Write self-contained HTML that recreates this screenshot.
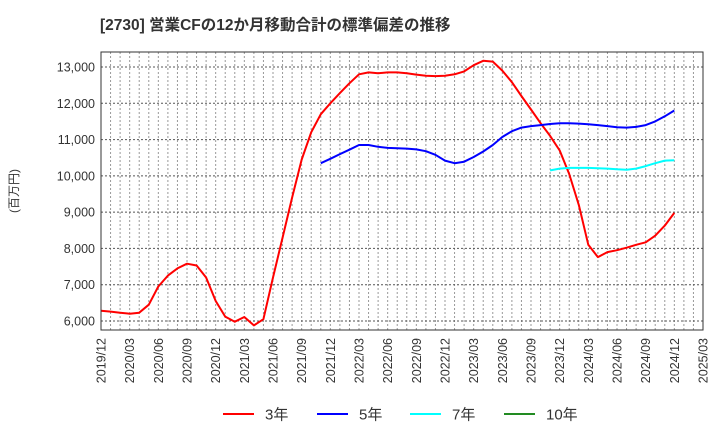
<!DOCTYPE html>
<html><head><meta charset="utf-8">
<style>
html,body{margin:0;padding:0;background:#fff;}
svg{display:block;font-family:"Liberation Sans","Noto Sans CJK JP",sans-serif;}
</style></head>
<body>
<svg id="chart" width="720" height="440" viewBox="0 0 720 440" xmlns="http://www.w3.org/2000/svg">
<text x="100" y="30" font-size="15.5" font-weight="bold" fill="#333">[2730]  営業CFの12か月移動合計の標準偏差の推移</text>
<text transform="translate(18,191) rotate(-90)" text-anchor="middle" font-size="12" fill="#333">(百万円)</text>
<g id="grid"></g>
<g id="series"></g>
<rect x="101" y="52" width="602" height="278" fill="none" stroke="#333" stroke-width="1"/>
<g id="axes"></g>
<g id="legend"></g>
</svg>
<script>
const yTicks=[6000,7000,8000,9000,10000,11000,12000,13000];
const xTickLabels=["2019/12","2020/03","2020/06","2020/09","2020/12","2021/03","2021/06","2021/09","2021/12","2022/03","2022/06","2022/09","2022/12","2023/03","2023/06","2023/09","2023/12","2024/03","2024/06","2024/09","2024/12","2025/03"];
const s3Start=0;
const s3=[6280,6260,6230,6200,6230,6450,6950,7250,7450,7580,7530,7200,6550,6120,5980,6110,5880,6050,7200,8300,9400,10450,11200,11700,12000,12280,12550,12800,12850,12830,12850,12850,12830,12790,12760,12750,12760,12800,12880,13050,13170,13150,12900,12580,12200,11830,11450,11100,10700,10050,9200,8100,7760,7900,7950,8020,8100,8170,8350,8630,8980];
const s5Start=23;
const s5=[10350,10470,10600,10720,10850,10850,10800,10770,10760,10750,10730,10680,10580,10420,10350,10390,10520,10670,10850,11070,11230,11330,11370,11400,11430,11450,11450,11440,11420,11400,11370,11340,11330,11350,11400,11500,11640,11800];
const s7Start=47;
const s7=[10150,10200,10220,10220,10220,10210,10200,10180,10170,10200,10270,10350,10420,10430];
const s10=[];
const legendLabels=["3年","5年","7年","10年"];
const colors=["#ff0000","#0000ff","#00ffff","#228b22"];

const NS="http://www.w3.org/2000/svg";
const X0=101,X1=703,Y0=52,Y1=330;
const nMonths=(xTickLabels.length-1)*3;
function xS(i){return X0+(X1-X0)*i/nMonths;}
function yS(v){return 67+(13000-v)*(321-67)/7000;}
function mk(tag,attrs,parent){const e=document.createElementNS(NS,tag);for(const k in attrs)e.setAttribute(k,attrs[k]);parent.appendChild(e);return e;}
const grid=document.getElementById('grid');
for(let m=1;m<nMonths;m++){
  const l=mk('line',{x1:xS(m),x2:xS(m),y1:Y0,y2:Y1,stroke:'#999','stroke-width':1,'stroke-dasharray':'2,2'},grid);
  
  
}
const axes=document.getElementById('axes');
yTicks.forEach(v=>{
  const l=mk('line',{x1:X0,x2:X1,y1:yS(v),y2:yS(v),stroke:'#555','stroke-width':1,'stroke-dasharray':'2,2'},grid);
  
  
  const t=mk('text',{x:X0-6,y:yS(v)+4.5,'text-anchor':'end','font-size':12.5,fill:'#333'},axes);
  t.textContent=v.toLocaleString('en-US');
  
  
});
xTickLabels.forEach((lab,i)=>{
  const x=xS(i*3);
  const t=mk('text',{transform:`translate(${x+4.5},338) rotate(-90)`,'text-anchor':'end','font-size':12.5,fill:'#333'},axes);
  t.textContent=lab;
  
  
});
const series=document.getElementById('series');
function draw(data,start,color,name){
  if(!data.length)return;
  const pts=data.map((v,k)=>xS(start+k).toFixed(1)+','+yS(v).toFixed(1)).join(' ');
  const p=mk('polyline',{points:pts,fill:'none',stroke:color,'stroke-width':2,'stroke-linejoin':'round'},series);
  
  
}
draw(s3,s3Start,colors[0],'line-3y');
draw(s5,s5Start,colors[1],'line-5y');
draw(s7,s7Start,colors[2],'line-7y');
draw(s10,0,colors[3],'line-10y');
const legend=document.getElementById('legend');
const lx=[223,317,410,504];
legendLabels.forEach((lab,i)=>{
  const g=mk('g',{},legend);
  
  
  mk('line',{x1:lx[i],x2:lx[i]+31,y1:414,y2:414,stroke:colors[i],'stroke-width':2},g);
  const t=mk('text',{x:lx[i]+42,y:419.5,'font-size':15,fill:'#333'},g);
  t.textContent=lab;
});
</script>
</body></html>
